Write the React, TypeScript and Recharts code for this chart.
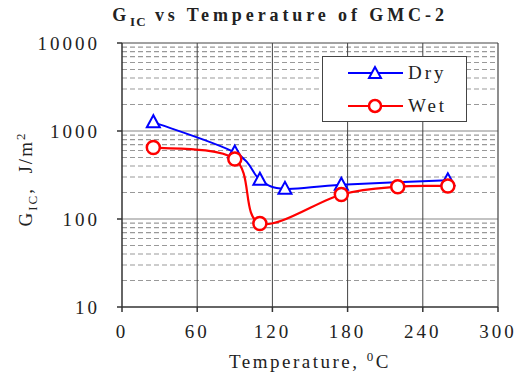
import React from "react";
import {
  LineChart,
  Line,
  XAxis,
  YAxis,
  ReferenceLine,
} from "recharts";

// temperature (deg C) and G_IC (J/m^2)
const dryTemp = [25, 90, 110, 130, 175, 260];
const dryGic = [1260, 570, 280, 220, 245, 275];
const wetTemp = [25, 90, 110, 175, 220, 260];
const wetGic = [650, 480, 89, 190, 233, 237];

const xTicks = [0, 60, 120, 180, 240, 300];
const yTicks = [10, 100, 1000, 10000];
const minorGrid = [
  20, 30, 40, 50, 60, 70, 80, 90,
  200, 300, 400, 500, 600, 700, 800, 900,
  2000, 3000, 4000, 5000, 6000, 7000, 8000, 9000,
];

const dryData = dryTemp.map((t, i) => ({ t, dry: dryGic[i] }));
const wetData = wetTemp.map((t, i) => ({ t, wet: wetGic[i] }));

const SERIF = "Liberation Serif, Times New Roman, DejaVu Serif, serif";
const tickStyle = { fontFamily: SERIF, fontSize: 19, fill: "#222", letterSpacing: 3 };

// spreadsheet-style smoothed line (catmull-rom style bezier)
const smoothCurve = (context: any) => {
  let pts: number[][] = [];
  return {
    areaStart() {},
    areaEnd() {},
    lineStart() {
      pts = [];
    },
    point(x: number, y: number) {
      pts.push([+x, +y]);
    },
    lineEnd() {
      if (!pts.length) return;
      context.moveTo(pts[0][0], pts[0][1]);
      for (let i = 0; i < pts.length - 1; i++) {
        const p0 = pts[i - 1] || pts[i];
        const p1 = pts[i];
        const p2 = pts[i + 1];
        const p3 = pts[i + 2] || p2;
        context.bezierCurveTo(
          p1[0] + (p2[0] - p0[0]) / 6,
          p1[1] + (p2[1] - p0[1]) / 6,
          p2[0] - (p3[0] - p1[0]) / 6,
          p2[1] - (p3[1] - p1[1]) / 6,
          p2[0],
          p2[1]
        );
      }
    },
  };
};

const Triangle = (props: any) => {
  const { cx, cy, index } = props;
  if (cx == null || cy == null) return <g key={"t" + index} />;
  return (
    <polygon
      key={"t" + index}
      points={`${cx},${cy - 7} ${cx - 6.5},${cy + 5} ${cx + 6.5},${cy + 5}`}
      fill="#fff"
      stroke="#0000ff"
      strokeWidth={2}
    />
  );
};

const LegendBox = () => (
  <div
    style={{
      position: "absolute",
      left: 322,
      top: 56,
      width: 143,
      height: 64,
      background: "#fff",
      border: "1.5px solid #444",
      zIndex: 2,
    }}
  >
    <svg width={143} height={64} style={{ display: "block" }}>
      <line x1={25} y1={16} x2={80} y2={16} stroke="#0000ff" strokeWidth={2} />
      <polygon points="52,10 46,21 58,21" fill="#fff" stroke="#0000ff" strokeWidth={2} />
      <text x={85} y={22} fontFamily={SERIF} fontSize={19} letterSpacing={3} fill="#222">
        Dry
      </text>
      <line x1={25} y1={49} x2={80} y2={49} stroke="#ff0000" strokeWidth={2} />
      <circle cx={52} cy={49} r={6} fill="#fff" stroke="#ff0000" strokeWidth={2.5} />
      <text x={85} y={55} fontFamily={SERIF} fontSize={19} letterSpacing={3} fill="#222">
        Wet
      </text>
    </svg>
  </div>
);

export default function App() {
  return (
    <div
      style={{
        position: "absolute",
        top: 0,
        left: 0,
        width: 524,
        height: 376,
        overflow: "hidden",
        background: "#fff",
      }}
    >
      <div
        style={{
          position: "absolute",
          top: 5,
          left: 0,
          width: 560,
          textAlign: "center",
          fontFamily: SERIF,
          fontWeight: "bold",
          fontSize: 18,
          letterSpacing: 3.9,
          color: "#222",
          zIndex: 2,
        }}
      >
        G<sub style={{ fontSize: 13, letterSpacing: 1 }}>IC</sub> vs Temperature of GMC-2
      </div>
      <div
        style={{
          position: "absolute",
          left: -33,
          top: 165,
          width: 120,
          transform: "rotate(-90deg)",
          transformOrigin: "center",
          textAlign: "center",
          fontFamily: SERIF,
          fontSize: 19,
          letterSpacing: 2,
          color: "#222",
          zIndex: 2,
        }}
      >
        G<sub style={{ fontSize: 13 }}>IC</sub>,&nbsp; J/m<sup style={{ fontSize: 13 }}>2</sup>
      </div>
      <div
        style={{
          position: "absolute",
          left: 210,
          top: 352,
          width: 200,
          lineHeight: "20px",
          textAlign: "center",
          fontFamily: SERIF,
          fontSize: 19,
          letterSpacing: 2.5,
          color: "#222",
          zIndex: 2,
        }}
      >
        Temperature, <sup style={{ fontSize: 13, lineHeight: 0 }}>0</sup>C
      </div>
      <LegendBox />
      <LineChart
        width={524}
        height={376}
        margin={{ top: 43, right: 26, bottom: 39, left: 0 }}
      >
        {minorGrid.map((v) => (
          <ReferenceLine
            key={"m" + v}
            y={v}
            stroke="#999"
            strokeDasharray="5 3"
            strokeWidth={1.2}
          />
        ))}
        {[100, 1000].map((v) => (
          <ReferenceLine key={"M" + v} y={v} stroke="#888" strokeWidth={1.2} />
        ))}
        {xTicks.slice(1, -1).map((v) => (
          <ReferenceLine key={"v" + v} x={v} stroke="#444" strokeWidth={1} />
        ))}
        <ReferenceLine y={10000} stroke="#444" strokeWidth={1.2} />
        <ReferenceLine x={300} stroke="#444" strokeWidth={1.2} />
        <XAxis
          type="number"
          dataKey="t"
          domain={[0, 300]}
          ticks={xTicks}
          allowDataOverflow
          height={30}
          stroke="#333"
          strokeWidth={1.5}
          tickSize={5}
          tickMargin={13}
          tick={tickStyle}
        />
        <YAxis
          type="number"
          scale="log"
          domain={[10, 10000]}
          ticks={yTicks}
          allowDataOverflow
          width={122}
          stroke="#333"
          strokeWidth={1.5}
          tickSize={5}
          tickMargin={17}
          tick={tickStyle}
        />
        <Line
          data={dryData}
          dataKey="dry"
          type={smoothCurve as any}
          stroke="#0000ff"
          strokeWidth={2}
          dot={Triangle}
          isAnimationActive={false}
          name="Dry"
        />
        <Line
          data={wetData}
          dataKey="wet"
          type={smoothCurve as any}
          stroke="#ff0000"
          strokeWidth={2.2}
          dot={{ r: 6.5, fill: "#fff", stroke: "#ff0000", strokeWidth: 2.5 }}
          isAnimationActive={false}
          name="Wet"
        />
      </LineChart>
    </div>
  );
}
